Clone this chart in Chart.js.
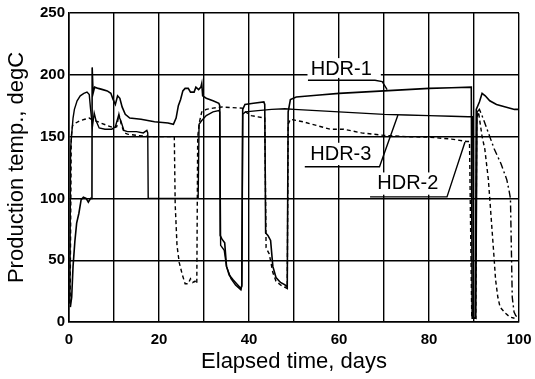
<!DOCTYPE html>
<html>
<head>
<meta charset="utf-8">
<script src="https://cdn.jsdelivr.net/npm/chart.js@4/dist/chart.umd.min.js"></script>
<style>
  html, body { margin: 0; padding: 0; background: #fff; }
  canvas { display: block; }
</style>
</head>
<body>
<canvas id="c" width="535" height="379"></canvas>
<script>
// ---- data ----
const seriesNames = ['HDR-1', 'HDR-2', 'HDR-3'];

const hdr1Days = [0.3,0.6,0.9,1.3,1.7,2.2,2.7,3.2,3.8,4.3,4.8,5.1,5.15,5.35,5.7,6.5,7.5,8.5,9.3,9.8,10.3,10.8,11.3,11.8,12.5,13.5,16,19,22,23.2,23.8,24.3,24.8,25.3,25.8,26.5,27,27.8,28.2,28.8,29.3,29.5,29.7,30.5,32,33.3,33.5,33.6,34,34.6,35,35.6,36.5,37.5,38.2,38.4,38.6,39.1,41,43.3,43.5,43.7,44.2,44.8,45.3,46,47,48,48.5,48.7,49.2,50.5,55,60,65,70,75,80,85,89.4,89.6,90.3,90.5,91.2,91.8,92.5,93.5,95,97,99,100];
const hdr1Temp = [12,20,45,65,80,88,99,101,100,97,100,100,206,185,190,189,188,187,185,180,176,183,181,174,168,165,164,162,161,160,165,175,180,187,189,189,186,186,190,188,190,193,183,181,179,177,175,70,67,64,45,38,34,30,27,29,172,176,177,178,176,72,70,66,45,36,32,30,28,170,180,182,183.5,185,186,187,188,189,189.5,190,3,3,172,178,185,183,179,176,174,172,172];

const hdr2Days = [0.25,0.5,0.8,1.5,2.5,3.5,4.5,5.0,5.8,7,8.5,10,10.6,11.1,11.6,12.3,13,15,18,21,23.4,23.6,24,24.5,25.2,25.8,26.5,27,27.5,28,28.4,28.6,29,29.5,30.5,32,34,36,38.5,39.2,40.5,42,43.5,43.8,44.5,45.3,46,47,48.5,48.7,49.2,52,55,58,61,65,70,75,80,85,88.4,89.0,89.5,90.4,90.6,91,91.8,92.4,93.2,94,94.4,94.8,95.3,95.8,97,98,99];
const hdr2Temp = [15,150,159,161,163,164,165,164,163,161,159,157,158,168,160,153,152,151,150,150,150,95,62,48,38,31,31,35,32,33,31,150,162,170,172,173,174,173.5,173,170,167,166,165,60,55,40,33,30,27,160,164,162,159,156,156,153,151,150,149.5,148,146,146,5,3,165,170,150,140,115,75,55,34,20,12,7,4,3];

const hdr3Days = [0.2,0.35,0.6,0.9,1.2,1.8,2.5,3.3,4.0,4.5,4.8,5.2,5.6,6.0,6.7,8,9.5,10.3,11,11.5,12.2,13,15,16.5,17.3,17.5,17.6,28.7,28.9,29.5,30.5,32,33.3,33.5,33.7,34.5,35,36,37,38.2,38.4,38.6,39.2,42,45,48,50,55,60,65,70,75,80,85,88.7,89.7,89.9,90.4,90.7,91.2,92,93,94.5,96,97.3,97.8,98.1,98.3,98.5,98.9,99.3,99.7,100];
const hdr3Temp = [15,140,152,165,172,179,183,185,186,184,172,158,169,163,157,156,156,158,167,163,155,154,154,153,155,153,100,100,160,163,167,170,171,170,62,58,45,35,30,26,30,168,170,171,172,172.5,172,171,170,169,168,167.5,167,166.5,166,166,3,3,170,172,165,155,140,128,115,106,100,60,20,8,5,4,6];

const xTickLabels = [0, 20, 40, 60, 80, 100];
const yTickLabels = [0, 50, 100, 150, 200, 250];

// ---- build datasets ----
const toPts = (d, t) => d.map((x, i) => ({ x: x, y: t[i] }));

// annotation labels with leader lines (data units)
const labelNotes = [
  { text: 'HDR-1', at: [60.5, 204], box: [53.0, 69.3, 197.5, 213.5],
    path: [[53.1, 195.6], [68.0, 195.6], [69.6, 194.5], [70.7, 188]] },
  { text: 'HDR-3', at: [60.4, 135.4], box: [52.2, 68.5, 127, 145],
    path: [[52.4, 125.6], [69.0, 125.6], [73.1, 167.5]] },
  { text: 'HDR-2', at: [75.3, 112.4], box: [67.0, 84.0, 103, 121],
    path: [[66.9, 101.2], [84.0, 101.2], [88.0, 145.6]] }
];

const notesPlugin = {
  id: 'notes',
  afterDatasetsDraw(chart) {
    const { ctx, scales: { x, y } } = chart;
    ctx.save();
    labelNotes.forEach(n => {
      const bx0 = x.getPixelForValue(n.box[0]), bx1 = x.getPixelForValue(n.box[1]);
      const by0 = y.getPixelForValue(n.box[3]), by1 = y.getPixelForValue(n.box[2]);
      ctx.fillStyle = '#fff';
      ctx.fillRect(bx0, by0, bx1 - bx0, by1 - by0);
      ctx.strokeStyle = '#000';
      ctx.lineWidth = 1.4;
      ctx.beginPath();
      n.path.forEach((p, i) => {
        const px = x.getPixelForValue(p[0]), py = y.getPixelForValue(p[1]);
        if (i === 0) ctx.moveTo(px, py); else ctx.lineTo(px, py);
      });
      ctx.stroke();
      ctx.fillStyle = '#000';
      ctx.font = '20px "Liberation Sans", Arial, sans-serif';
      ctx.textAlign = 'center';
      ctx.textBaseline = 'middle';
      ctx.fillText(n.text, x.getPixelForValue(n.at[0]), y.getPixelForValue(n.at[1]));
    });
    ctx.restore();
  }
};

const fontFam = '"Liberation Sans", Arial, sans-serif';

new Chart(document.getElementById('c'), {
  type: 'line',
  data: {
    datasets: [
      { label: seriesNames[0], data: toPts(hdr1Days, hdr1Temp), borderColor: '#000', borderWidth: 1.6 },
      { label: seriesNames[1], data: toPts(hdr2Days, hdr2Temp), borderColor: '#000', borderWidth: 1.4, borderDash: [4, 3] },
      { label: seriesNames[2], data: toPts(hdr3Days, hdr3Temp), borderColor: '#000', borderWidth: 1.4,
        segment: { borderDash: c => (c.p0.parsed.x >= 90.5 ? [7, 3, 2, 3] : undefined) } }
    ]
  },
  options: {
    responsive: false,
    animation: false,
    layout: { padding: { left: 0, right: 16, top: 13, bottom: 0 } },
    plugins: { legend: { display: false }, tooltip: { enabled: false } },
    elements: { point: { radius: 0 }, line: { tension: 0, fill: false } },
    scales: {
      x: {
        type: 'linear', min: 0, max: 100,
        ticks: {
          stepSize: 10, autoSkip: false, maxRotation: 0, padding: 3, color: '#000',
          font: { family: fontFam, size: 15, weight: 'bold', lineHeight: 2.0 },
          callback: v => (xTickLabels.includes(v) ? String(v) : '')
        },
        grid: { color: '#000', lineWidth: 1.4, drawTicks: false },
        border: { color: '#000', width: 1.6 },
        title: { display: true, text: 'Elapsed time, days', color: '#000',
          font: { family: fontFam, size: 22, lineHeight: 0.7 }, padding: { top: 0, bottom: 9 } },
        afterFit: s => { s.height = 57; }
      },
      y: {
        type: 'linear', min: 0, max: 250,
        ticks: {
          stepSize: 50, padding: 4, color: '#000',
          font: { family: fontFam, size: 15, weight: 'bold' },
          callback: v => (yTickLabels.includes(v) ? String(v) : '')
        },
        grid: { color: '#000', lineWidth: 1.4, drawTicks: false },
        border: { color: '#000', width: 1.6 },
        title: { display: true, text: 'Production temp., degC', color: '#000',
          font: { family: fontFam, size: 22, lineHeight: 1.2 }, padding: { top: 4, bottom: 0 } },
        afterFit: s => { s.width = 69; }
      }
    }
  },
  plugins: [notesPlugin]
});
</script>
</body>
</html>
